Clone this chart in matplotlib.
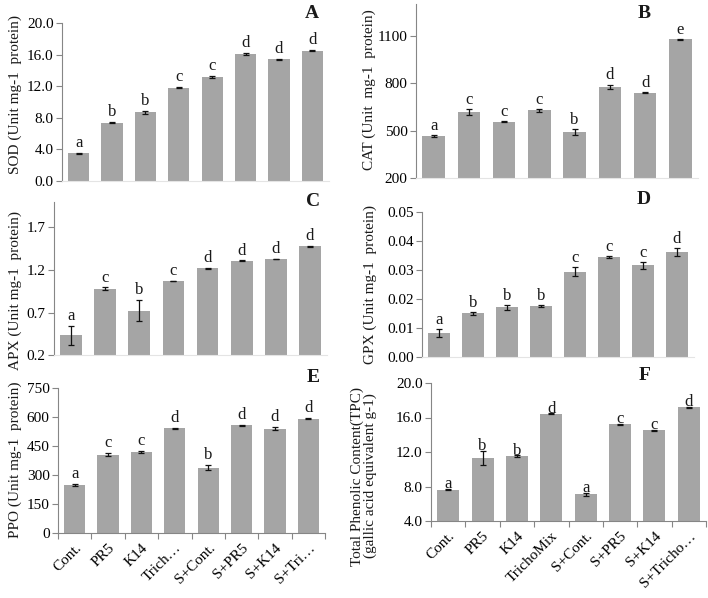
import matplotlib

matplotlib.use("Agg")

import matplotlib.pyplot as plt
import numpy as np

W, H = 708, 598

LABELS_E = ["Cont.", "PR5", "K14", "Trich…", "S+Cont.", "S+PR5", "S+K14", "S+Tri…"]
LABELS_F = ["Cont.", "PR5", "K14", "TrichoMix", "S+Cont.", "S+PR5", "S+K14", "S+Tricho…"]

SOD = [3.5, 7.4, 8.7, 11.8, 13.2, 16.1, 15.4, 16.5]
SOD_ERR = [0.08, 0.06, 0.2, 0.08, 0.12, 0.15, 0.04, 0.04]
SOD_SIG = ["a", "b", "b", "c", "c", "d", "d", "d"]

CAT = [465, 617, 558, 628, 492, 778, 740, 1078]
CAT_ERR = [6, 20, 4, 8, 18, 14, 4, 3]
CAT_SIG = ["a", "c", "c", "c", "b", "d", "d", "e"]

APX = [0.43, 0.98, 0.72, 1.07, 1.22, 1.31, 1.33, 1.48]
APX_ERR = [0.115, 0.015, 0.125, 0.005, 0.005, 0.005, 0.005, 0.005]
APX_SIG = ["a", "c", "b", "c", "d", "d", "d", "d"]

GPX = [0.0083, 0.0151, 0.0171, 0.0177, 0.0294, 0.0345, 0.0316, 0.0362]
GPX_ERR = [0.0014, 0.0005, 0.0009, 0.0003, 0.0016, 0.0003, 0.0011, 0.0013]
GPX_SIG = ["a", "b", "b", "b", "c", "c", "c", "d"]

PPO = [250, 405, 420, 542, 338, 557, 540, 592]
PPO_ERR = [5, 8, 6, 3, 12, 4, 7, 4]
PPO_SIG = ["a", "c", "c", "d", "b", "d", "d", "d"]

TPC = [7.65, 11.3, 11.55, 16.45, 7.1, 15.2, 14.5, 17.2]
TPC_ERR = [0.1, 0.85, 0.08, 0.05, 0.2, 0.05, 0.05, 0.05]
TPC_SIG = ["a", "b", "b", "d", "a", "c", "c", "d"]

BAR_COLOR = "#a5a5a5"
AXIS_COLOR = "#868686"
TEXT_COLOR = "#1a1a1a"

plt.rcParams["font.family"] = ["Liberation Serif", "DejaVu Serif"]
plt.rcParams["text.color"] = TEXT_COLOR


def px_axes(fig, left, top, right, bottom):
    return fig.add_axes([left / W, 1 - bottom / H, (right - left) / W, (bottom - top) / H])


def draw_panel(ax, values, errors, sigs, ylim, yticks, fmt, sig_offset, xlabels=None):
    x = np.arange(len(values))
    ax.bar(x, values, width=0.64, color=BAR_COLOR, bottom=0, zorder=2)
    ax.errorbar(x, values, yerr=errors, fmt="none", ecolor="#111111", elinewidth=0.9,
                capsize=2.5, capthick=0.9, zorder=3)
    for xi, v, e, s in zip(x, values, errors, sigs):
        ax.text(xi, v + e + sig_offset, s, ha="center", va="bottom", fontsize=12)
    ax.set_xlim(-0.5, len(values) - 0.5)
    ax.set_ylim(*ylim)
    ax.set_yticks(yticks)
    ax.set_yticklabels([fmt.format(t) for t in yticks], fontsize=11)
    for side in ["top", "right"]:
        ax.spines[side].set_visible(False)
    ax.spines["left"].set_color(AXIS_COLOR)
    ax.spines["left"].set_linewidth(0.8)
    ax.tick_params(axis="y", length=4, width=0.8, color=AXIS_COLOR, pad=2)
    if xlabels is None:
        ax.spines["bottom"].set_color("#e4e4e4")
        ax.spines["bottom"].set_linewidth(0.8)
        ax.set_xticks([])
    else:
        ax.spines["bottom"].set_color(AXIS_COLOR)
        ax.spines["bottom"].set_linewidth(0.8)
        ax.set_xticks(x)
        ax.set_xticklabels(xlabels, rotation=45, ha="right", rotation_mode="anchor", fontsize=11)
        ax.set_xticks(np.arange(len(values) + 1) - 0.5, minor=True)
        ax.tick_params(axis="x", which="major", length=0, pad=6)
        ax.tick_params(axis="x", which="minor", length=4, width=0.8, color=AXIS_COLOR)


def main():
    fig = plt.figure(figsize=(W / 100, H / 100), dpi=100)

    ax_a = px_axes(fig, 62, 23, 329, 181)
    draw_panel(ax_a, SOD, SOD_ERR, SOD_SIG, (0, 20), [0, 4, 8, 12, 16, 20], "{:.1f}", 0.25)

    ax_b = px_axes(fig, 416, 4, 698, 178)
    draw_panel(ax_b, CAT, CAT_ERR, CAT_SIG, (200, 1303), [200, 500, 800, 1100], "{:.0f}", 8)

    ax_c = px_axes(fig, 54, 202, 327, 355)
    draw_panel(ax_c, APX, APX_ERR, APX_SIG, (0.2, 2.0), [0.2, 0.7, 1.2, 1.7], "{:.1f}", 0.02)

    ax_d = px_axes(fig, 422, 212, 694, 357)
    draw_panel(ax_d, GPX, GPX_ERR, GPX_SIG, (0, 0.05), [0, 0.01, 0.02, 0.03, 0.04, 0.05],
               "{:.2f}", 0.0003)

    ax_e = px_axes(fig, 58, 388, 325, 533)
    draw_panel(ax_e, PPO, PPO_ERR, PPO_SIG, (0, 750), [0, 150, 300, 450, 600, 750], "{:.0f}", 10,
               xlabels=LABELS_E)

    ax_f = px_axes(fig, 431, 383, 706, 521)
    draw_panel(ax_f, TPC, TPC_ERR, TPC_SIG, (4, 20), [4, 8, 12, 16, 20], "{:.1f}", -0.4,
               xlabels=LABELS_F)

    # y labels
    fig.text(15 / W, 1 - 95 / H, "SOD (Unit mg-1  protein)", rotation=90, ha="center", va="center", fontsize=11)
    fig.text(369 / W, 1 - 90 / H, "CAT (Unit  mg-1  protein)", rotation=90, ha="center", va="center", fontsize=11)
    fig.text(15 / W, 1 - 290 / H, "APX (Unit mg-1  protein)", rotation=90, ha="center", va="center", fontsize=11)
    fig.text(370 / W, 1 - 285 / H, "GPX (Unit mg-1  protein)", rotation=90, ha="center", va="center", fontsize=11)
    fig.text(15 / W, 1 - 460 / H, "PPO (Unit mg-1  protein)", rotation=90, ha="center", va="center", fontsize=11)
    fig.text(364 / W, 1 - 476 / H, "Total Phenolic Content(TPC)\n(gallic acid equivalent g-1)",
             rotation=90, ha="center", va="center", fontsize=11, linespacing=1.0)

    # panel letters
    for letter, (px, py) in zip("ABCDEF", [(312, 13), (644, 13), (313, 201), (644, 200), (313, 378), (645, 375)]):
        fig.text(px / W, 1 - py / H, letter, ha="center", va="center", fontsize=14, fontweight="bold")

    fig.savefig("out.png", dpi=100)
    plt.close(fig)


if __name__ == "__main__":
    main()
